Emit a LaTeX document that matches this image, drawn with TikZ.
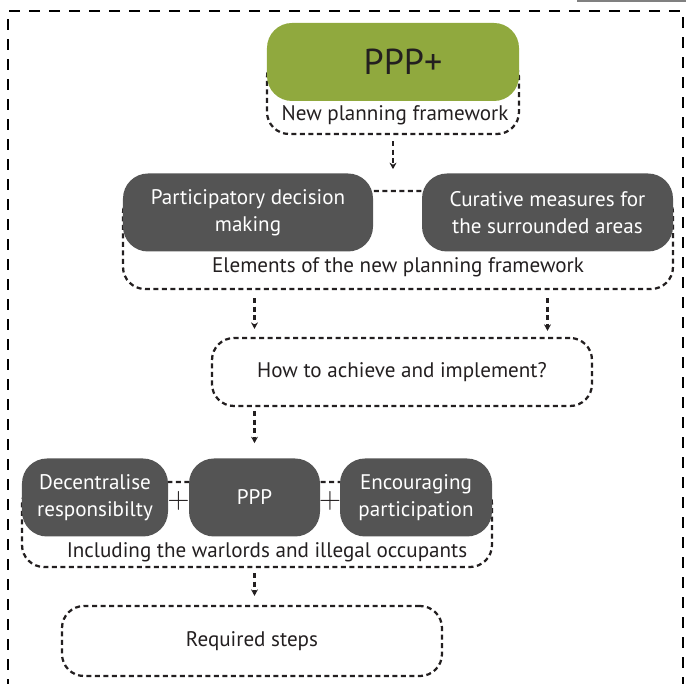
\documentclass[tikz,border=0pt]{standalone}
\usepackage{fontspec}
\setmainfont{PT Sans}
\usepackage{xcolor}
\usepackage{tikz}
\usetikzlibrary{arrows.meta, fit, backgrounds, calc}
\definecolor{pppgreen}{RGB}{144, 169, 62}
\definecolor{boxgray}{RGB}{84, 84, 84}
\definecolor{inkdark}{RGB}{35, 31, 32}

\begin{document}
\begin{tikzpicture}[
  x=0.2mm, y=-0.2mm,
  every node/.style={font=\fontsize{12}{15.4}\selectfont, text=inkdark},
  greenbox/.style={fill=pppgreen, rounded corners=5mm,
                   minimum width=50.4mm, minimum height=15.6mm,
                   font=\fontsize{20.5}{24}\selectfont},
  darkbox/.style={fill=boxgray, text=white, rounded corners=5mm,
                  align=center, minimum height=15.6mm, inner sep=0pt},
  grpbox/.style={draw=inkdark, line width=0.45mm,
                 dash pattern=on 1mm off 0.7mm,
                 rounded corners=4.4mm, inner sep=0pt},
  askbox/.style={grpbox, minimum width=76mm},
  arrow/.style={-{Stealth[length=1.3mm, width=1.4mm]}, line width=0.45mm,
                draw=inkdark, dash pattern=on 1mm off 0.7mm},
  outerframe/.style={draw=black, line width=0.55mm,
                     dash pattern=on 2.2mm off 1.8mm},
  plussign/.style={font=\fontsize{18}{18}\selectfont, inner sep=0pt}
]
\useasboundingbox (0,0) rectangle (686,684);

% ── Frame ────────────────────────────────────────────────────────────────────
\draw[outerframe] (8,690) -- (8,11) -- (683,11) -- (683,690);
\draw[line width=0.25mm, draw=gray] (577,1) -- (686,1);

% ── Groups ───────────────────────────────────────────────────────────────────
\begin{scope}[on background layer]
  \node[grpbox, fit={(267,55) (519,134)}] (newgrp) {};
  \node[grpbox, fit={(123,191) (673,289)}] (elemgrp) {};
  \node[grpbox, fit={(22,482) (492,567)}] (inclgrp) {};
\end{scope}

% ── Nodes ────────────────────────────────────────────────────────────────────
\node[greenbox] (pppplus) at (393,62) {\hspace*{4mm}PPP+};
\node (newlbl) at (395,115) {New planning framework};

\node[darkbox, minimum width=50mm] (partic) at (248,212.5)
  {Participatory decision\\making};
\node[darkbox, minimum width=50.2mm] (curative) at (547.5,212.5)
  {Curative measures for\\the surrounded areas};
\node (elemlbl) at (398,267) {Elements of the new planning framework};

\node[askbox, minimum height=13.6mm] (howbox) at (402,372)
  {How to achieve and implement?};

\node[darkbox, minimum width=29.2mm] (decent) at (95,497.5)
  {Decentralise\\responsibilty};
\node[darkbox, minimum width=26.2mm] (pppbox) at (254.5,497.5) {PPP};
\node[darkbox, minimum width=30.4mm] (encour) at (416,497.5)
  {Encouraging\\participation};
\node[plussign] (plusa) at ($(decent.east)!0.5!(pppbox.west)+(0,3)$) {$+$};
\node[plussign] (plusb) at ($(pppbox.east)!0.5!(encour.west)+(0,3)$) {$+$};
\node (incllbl) at (267,552) {Including the warlords and illegal occupants};

\node[askbox, minimum height=14mm] (reqsteps) at (252,641) {Required steps};

% ── Arrows ───────────────────────────────────────────────────────────────────
% framework → elements
\draw[arrow, shorten <=1.2mm, shorten >=0.8mm]
  (newgrp.south) -- (newgrp.south |- partic.north);

% elements → how
\draw[arrow, shorten <=1.6mm, shorten >=1.6mm]
  (elemgrp.south -| pppbox) -- (howbox.north -| pppbox);
\draw[arrow, shorten <=1.6mm, shorten >=1.2mm]
  (elemgrp.south -| curative) -- (howbox.north -| curative);

% how → steps row
\draw[arrow, shorten <=0.8mm, shorten >=3mm]
  (howbox.south -| pppbox) -- (pppbox.north);

% steps row → required steps
\draw[arrow, shorten <=1mm, shorten >=1.8mm]
  (inclgrp.south -| pppbox) -- (reqsteps.north -| pppbox);

\end{tikzpicture}
\end{document}
